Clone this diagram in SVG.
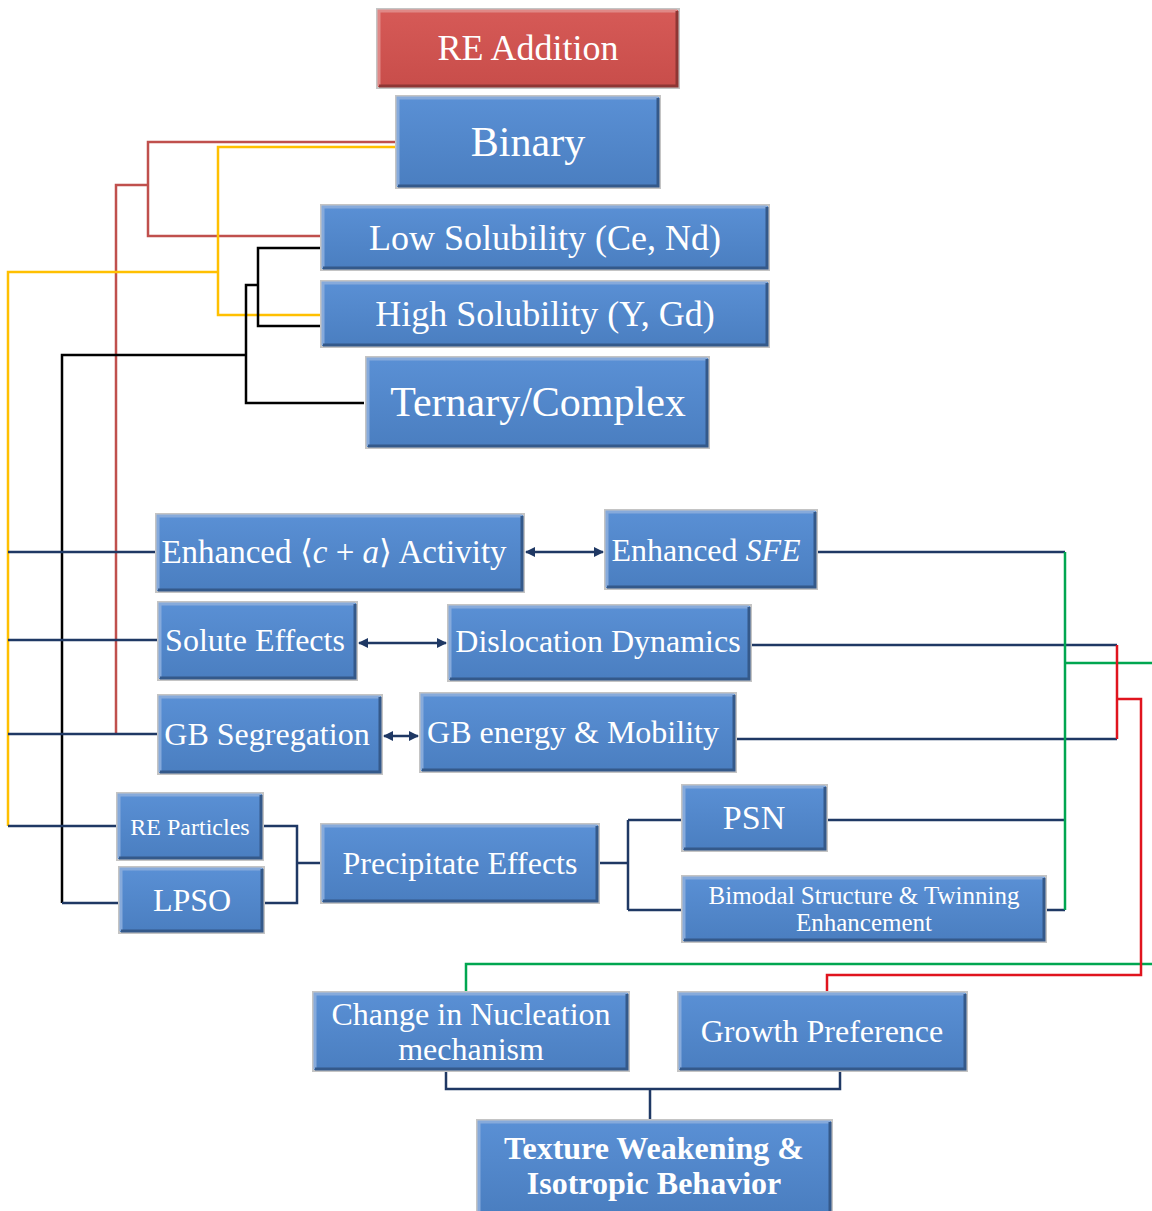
<svg xmlns="http://www.w3.org/2000/svg" width="1152" height="1211" viewBox="0 0 1152 1211">
<style>
.b{fill:url(#gb);stroke:#C4C4C4;stroke-width:2}
.r{fill:url(#gr);stroke:#C4C4C4;stroke-width:2}
.hl{fill:none;stroke:#86AADB;stroke-width:3}
.sh{fill:none;stroke:#34598A;stroke-width:3}
.hlr{fill:none;stroke:#E08886;stroke-width:3}
.shr{fill:none;stroke:#8E3634;stroke-width:3}
text{font-family:"Liberation Serif","Times New Roman",serif;fill:#fff;text-anchor:middle}
.c line,.c path{fill:none;stroke-width:2.5}
.nv{stroke:#1F3864}
.rd{stroke:#C0504D}
.yl{stroke:#FFC000}
.bk{stroke:#000}
.gn{stroke:#00A650}
.rr{stroke:#E0141E}
.ar{marker-start:url(#ah);marker-end:url(#ah)}
</style>
<defs>
<linearGradient id="gb" x1="0" y1="0" x2="0" y2="1"><stop offset="0" stop-color="#5A90D5"/><stop offset="1" stop-color="#4A7EC0"/></linearGradient>
<linearGradient id="gr" x1="0" y1="0" x2="0" y2="1"><stop offset="0" stop-color="#D65A57"/><stop offset="1" stop-color="#C84D4A"/></linearGradient>
<marker id="ah" viewBox="0 0 10 10" refX="9" refY="5" markerWidth="4" markerHeight="4" orient="auto-start-reverse"><path d="M0 0L10 5L0 10z" fill="#1F3864"/></marker>
</defs>
<rect width="1152" height="1211" fill="#fff"/>

<g class="c" id="connectors">
<path class="rd" d="M396 142H148V236H321M148 185H116V734"/>
<path class="yl" d="M400 147H218V315H321M218 272H8V826"/>
<path class="bk" d="M321 248H258V326H321M258 285H246V403H364M246 355H62V903"/>
<path class="nv" d="M8 552H156M8 640H158M8 734H158M8 826H117M62 903H119"/>
<path class="nv" d="M263 826H297V903H264M297 863H321"/>
<path class="nv" d="M599 863H628M628 820V910M628 820H682M628 910H682"/>
<path class="nv ar" d="M526 552H603"/>
<path class="nv ar" d="M359 643H446"/>
<path class="nv ar" d="M384 736H418"/>
<path class="nv" d="M817 552H1065M751 645H1117M736 739H1117M827 820H1065M1046 910H1065"/>
<path class="gn" d="M1065 552V910M1065 663H1152M1152 964H466V992"/>
<path class="rr" d="M1117 645V739M1117 699H1141V975H827V992"/>
<path class="nv" d="M446 1071V1089H840V1071M650 1089V1120"/>
</g>

<g id="n-re"><rect class="r" x="377" y="9" width="302" height="79"/><path class="hlr" d="M379 86V11H677"/><path class="shr" d="M379 86H677V11"/><text x="528" y="60" font-size="36">RE Addition</text></g>
<g id="n-binary"><rect class="b" x="396" y="96" width="264" height="92"/><path class="hl" d="M398 186V98H658"/><path class="sh" d="M398 186H658V98"/><text x="528" y="156" font-size="42">Binary</text></g>
<g id="n-low"><rect class="b" x="321" y="205" width="448" height="65"/><path class="hl" d="M323 268V207H767"/><path class="sh" d="M323 268H767V207"/><text x="545" y="250" font-size="36">Low Solubility (Ce, Nd)</text></g>
<g id="n-high"><rect class="b" x="321" y="281" width="448" height="66"/><path class="hl" d="M323 345V283H767"/><path class="sh" d="M323 345H767V283"/><text x="545" y="326" font-size="36">High Solubility (Y, Gd)</text></g>
<g id="n-tern"><rect class="b" x="366" y="357" width="343" height="91"/><path class="hl" d="M368 446V359H707"/><path class="sh" d="M368 446H707V359"/><text x="538" y="416" font-size="42">Ternary/Complex</text></g>
<g id="n-ca"><rect class="b" x="156" y="514" width="368" height="78"/><path class="hl" d="M158 590V516H522"/><path class="sh" d="M158 590H522V516"/><text x="334" y="563" font-size="33">Enhanced ⟨<tspan font-style="italic">c</tspan> + <tspan font-style="italic">a</tspan>⟩ Activity</text></g>
<g id="n-sfe"><rect class="b" x="605" y="510" width="212" height="79"/><path class="hl" d="M607 587V512H815"/><path class="sh" d="M607 587H815V512"/><text x="706" y="561" font-size="32">Enhanced <tspan font-style="italic">SFE</tspan></text></g>
<g id="n-solute"><rect class="b" x="158" y="602" width="199" height="78"/><path class="hl" d="M160 678V604H355"/><path class="sh" d="M160 678H355V604"/><text x="255" y="651" font-size="32">Solute Effects</text></g>
<g id="n-disl"><rect class="b" x="448" y="605" width="303" height="76"/><path class="hl" d="M450 679V607H749"/><path class="sh" d="M450 679H749V607"/><text x="598" y="652" font-size="32">Dislocation Dynamics</text></g>
<g id="n-gbseg"><rect class="b" x="158" y="695" width="224" height="79"/><path class="hl" d="M160 772V697H380"/><path class="sh" d="M160 772H380V697"/><text x="267" y="745" font-size="32">GB Segregation</text></g>
<g id="n-gben"><rect class="b" x="420" y="693" width="316" height="79"/><path class="hl" d="M422 770V695H734"/><path class="sh" d="M422 770H734V695"/><text x="573" y="743" font-size="32">GB energy &amp; Mobility</text></g>
<g id="n-rep"><rect class="b" x="117" y="793" width="146" height="67"/><path class="hl" d="M119 858V795H261"/><path class="sh" d="M119 858H261V795"/><text x="190" y="835" font-size="24">RE Particles</text></g>
<g id="n-lpso"><rect class="b" x="119" y="867" width="145" height="66"/><path class="hl" d="M121 931V869H262"/><path class="sh" d="M121 931H262V869"/><text x="192" y="911" font-size="32">LPSO</text></g>
<g id="n-prec"><rect class="b" x="321" y="824" width="278" height="79"/><path class="hl" d="M323 901V826H597"/><path class="sh" d="M323 901H597V826"/><text x="460" y="874" font-size="32">Precipitate Effects</text></g>
<g id="n-psn"><rect class="b" x="682" y="785" width="145" height="66"/><path class="hl" d="M684 849V787H825"/><path class="sh" d="M684 849H825V787"/><text x="754" y="829" font-size="34">PSN</text></g>
<g id="n-bimodal"><rect class="b" x="682" y="876" width="364" height="66"/><path class="hl" d="M684 940V878H1044"/><path class="sh" d="M684 940H1044V878"/><text x="864" y="904" font-size="25">Bimodal Structure &amp; Twinning</text><text x="864" y="931" font-size="25">Enhancement</text></g>
<g id="n-nucl"><rect class="b" x="313" y="992" width="316" height="79"/><path class="hl" d="M315 1069V994H627"/><path class="sh" d="M315 1069H627V994"/><text x="471" y="1025" font-size="32">Change in Nucleation</text><text x="471" y="1060" font-size="32">mechanism</text></g>
<g id="n-growth"><rect class="b" x="678" y="992" width="289" height="79"/><path class="hl" d="M680 1069V994H965"/><path class="sh" d="M680 1069H965V994"/><text x="822" y="1042" font-size="32">Growth Preference</text></g>
<g id="n-texture"><rect class="b" x="477" y="1120" width="355" height="93"/><path class="hl" d="M479 1211V1122H830"/><path class="sh" d="M830 1122V1211"/><text x="654" y="1159" font-size="32" font-weight="bold">Texture Weakening &amp;</text><text x="654" y="1194" font-size="32" font-weight="bold">Isotropic Behavior</text></g>
</svg>
